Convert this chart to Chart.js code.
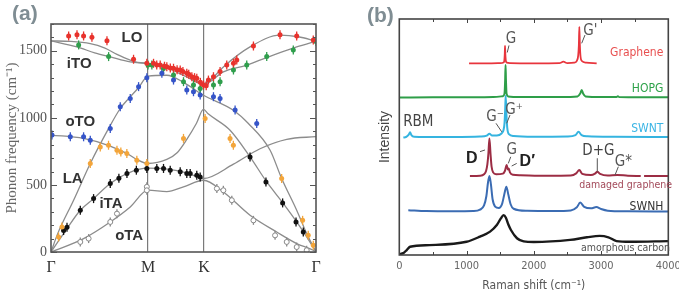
<!DOCTYPE html>
<html>
<head>
<meta charset="utf-8">
<script src="https://cdn.jsdelivr.net/npm/chart.js@4.4.1/dist/chart.umd.min.js"></script>
<style>
  html, body { margin: 0; padding: 0; background: #fff; }
  #wrap { position: relative; width: 679px; height: 291px; overflow: hidden; }
  .panel { position: absolute; top: 0; height: 291px; }
  #pa { left: 0; width: 340px; }
  #pb { left: 340px; width: 339px; }
  .tag { position: absolute; font: bold 21px 'Liberation Sans', Arial, sans-serif; color: #7f8d93; }
</style>
</head>
<body>
<div id="wrap">
  <div class="panel" id="pa"><canvas id="chart-a"></canvas></div>
  <div class="panel" id="pb"><canvas id="chart-b"></canvas></div>
  <div class="tag" style="left:12px;top:1px">(a)</div>
  <div class="tag" style="left:367px;top:3px">(b)</div>
</div>
<script>
// ── Panel (a): phonon dispersion, x = path length Γ-M-K-Γ ────────
const pathLabels = ['Γ', 'M', 'K', 'Γ'];
const pathPos    = [0, 1, 1.577, 2.732];
const freqTicks  = [0, 500, 1000, 1500];

// calculated branches [q, cm-1]
const curveLO  = [[0,1574],[0.2,1570],[0.405,1553],[0.55,1522],[0.68,1474],[0.85,1422],[1,1405],[1.2,1385],[1.4,1325],[1.572,1257],[1.64,1281],[1.777,1380],[2.052,1529],[2.361,1617],[2.55,1605],[2.732,1572]];
const curveITO = [[0,1574],[0.268,1529],[0.45,1485],[0.611,1455],[0.817,1417],[1,1405],[1.2,1372],[1.4,1305],[1.572,1250],[1.777,1343],[2.018,1393],[2.224,1450],[2.533,1529],[2.732,1572]];
const curveLA  = [[0,0],[0.069,137],[0.233,386],[0.405,660],[0.593,920],[0.714,1070],[0.8,1144],[0.902,1225],[1,1312],[1.194,1318],[1.366,1265],[1.572,1169],[1.88,1057],[2.035,958],[2.259,759],[2.378,548],[2.533,311],[2.636,137],[2.732,0]];
const curveOTO = [[0,872],[0.336,847],[0.611,790],[0.697,762],[0.782,735],[0.885,690],[1,660],[1.194,690],[1.3,740],[1.4,840],[1.5,960],[1.572,1063],[1.62,1030],[1.846,908],[2.052,709],[2.224,522],[2.396,361],[2.533,224],[2.636,112],[2.732,0]];
const curveITA = [[0,0],[0.165,175],[0.302,311],[0.439,398],[0.611,510],[0.783,585],[1,625],[1.2,618],[1.4,590],[1.572,548],[1.881,655],[2.155,770],[2.43,840],[2.732,860]];
const curveOTA = [[0,0],[0.336,100],[0.611,224],[0.817,336],[1,461],[1.194,450],[1.366,486],[1.572,535],[1.777,448],[2.052,274],[2.327,149],[2.533,63],[2.704,13],[2.732,0]];

// measured points [q, cm-1]
const ptsRed    = [[0.182,1611],[0.268,1619],[0.336,1611],[0.422,1601],[0.577,1576],[0.851,1437],[0.988,1407],[1.057,1407],[1.09,1395],[1.126,1394],[1.17,1385],[1.194,1382],[1.23,1372],[1.263,1370],[1.3,1358],[1.332,1357],[1.36,1345],[1.4,1332],[1.42,1325],[1.452,1307],[1.48,1300],[1.503,1295],[1.54,1265],[1.572,1245],[1.6,1240],[1.623,1282],[1.675,1307],[1.743,1345],[1.812,1394],[1.881,1407],[1.915,1432],[2.087,1536],[2.361,1619],[2.533,1611],[2.704,1581]];
const ptsGreen  = [[0.285,1544],[0.594,1457],[1.0,1395],[1.04,1394],[1.16,1370],[1.263,1320],[1.366,1270],[1.469,1245],[1.538,1220],[1.675,1245],[1.743,1270],[1.881,1357],[2.018,1394],[2.224,1457],[2.498,1506],[2.732,1569]];
const ptsBlue   = [[0.01,872],[0.199,859],[0.336,859],[0.405,834],[0.611,921],[0.714,1083],[0.817,1145],[0.903,1233],[0.988,1300],[1.143,1332],[1.263,1282],[1.4,1208],[1.469,1195],[1.538,1170],[1.675,1158],[1.743,1145],[1.898,1058],[2.121,959]];
const ptsYellow = [[0.078,112],[0.113,187],[0.405,660],[0.508,783],[0.593,796],[0.68,759],[0.72,745],[0.782,735],[0.885,685],[0.988,660],[1.366,847],[1.589,995],[1.846,846],[1.88,796],[2.378,548],[2.594,236],[2.652,124],[2.704,50]];
const ptsBlack  = [[0.13,160],[0.165,185],[0.302,311],[0.439,398],[0.611,510],[0.7,550],[0.783,585],[0.88,610],[0.988,622],[1.091,623],[1.16,623],[1.229,610],[1.332,598],[1.4,585],[1.435,585],[1.503,573],[1.538,560],[2.052,709],[2.216,522],[2.388,366],[2.526,224],[2.601,149]];
const ptsOpen   = [[0.302,75],[0.388,100],[0.611,224],[0.68,286],[0.988,486],[0.988,460],[1.71,473],[1.777,460],[1.864,386],[2.087,236],[2.31,124],[2.43,75],[2.533,37],[2.636,13]];

// ── Panel (b): Raman spectra (offset traces) ─────────────────────
const ramanTicks = [0, 1000, 2000, 3000, 4000];

const grapheneShift = [1037,1300,1500,1550,1562,1568,1572,1577,1585,1600,1650,2000,2380,2440,2500,2600,2640,2660,2670,2677,2685,2695,2715,2780,2935];
const grapheneInt   = [81.2,81.2,81.3,81.6,82.5,85,88.6,85,82.2,81.5,81.3,81.2,81.3,81.9,81.3,81.5,82.3,84.5,89,96.7,89,84,82.2,81.5,81.2];

const hopgShift = [0,500,1000,1400,1540,1565,1574,1580,1586,1595,1620,1800,2400,2650,2690,2712,2735,2770,3000,3230,3250,3270,3600,4000];
const hopgInt   = [66.7,66.8,66.8,66.9,67.3,68.5,74,80.5,74,68.3,67.2,66.9,66.9,67.2,68.4,69.9,68.3,67.2,66.9,66.9,67.3,66.9,66.8,66.8];

const swntShift = [60,100,140,160,180,220,400,800,1200,1300,1340,1380,1450,1520,1550,1565,1575,1582,1592,1605,1630,1700,2000,2500,2620,2665,2710,2800,3200,4000];
const swntInt   = [49.8,50.0,51.0,52.0,50.8,50.1,50.0,50.0,50.2,50.6,51.4,50.6,50.6,51.5,53,56,62,67.5,60,54,51.2,50.4,50.1,50.2,50.8,52.2,50.8,50.3,50.1,50.0];

const damagedShift = [1050,1200,1260,1290,1310,1325,1340,1356,1372,1395,1440,1540,1570,1597,1615,1628,1645,1690,1800,2200,2550,2630,2677,2720,2850,2910,2945,2985,3100,3240,3400,3590,3615,3640,4000];
const damagedInt   = [33.5,33.6,34.2,35.6,38.5,43,49.4,43,37.5,35,34.2,34.5,35.6,38.1,36.2,36.6,35,34,33.8,33.6,33.7,34.6,36,34.4,33.9,34.5,35.3,34.4,33.7,33.9,33.6,33.5,null,33.5,33.5];

const swnhShift = [134,400,800,1100,1200,1260,1295,1318,1340,1362,1388,1425,1480,1530,1560,1592,1622,1655,1700,1900,2300,2550,2640,2690,2750,2850,2930,3000,3100,3400,4000];
const swnhInt   = [19.0,18.6,18.5,18.6,19.2,21,25,30.5,33.5,30,23.5,20.5,19.9,21.8,25.5,28.9,25.5,21.5,19.6,18.7,18.6,18.9,20.2,22.2,20.4,19.8,20.3,19.5,18.8,18.5,18.4];

const amorphShift = [0,60,110,160,450,1000,1200,1350,1450,1510,1550,1585,1620,1660,1750,1850,2000,2540,2790,2980,3110,3230,3430,4000];
const amorphInt   = [0.4,0.8,2.1,3.5,4.2,5.6,7.8,9.9,12.7,15.5,16.9,15.8,13,10.6,7.1,5.8,5.5,6.4,7.5,8.1,7.5,5.9,5.6,5.9];

// ── Styling ──────────────────────────────────────────────────────
const SERIF  = "'Liberation Serif', 'Times New Roman', serif";
const SANS   = "'Liberation Sans', Arial, sans-serif";
const NARROW = "'Liberation Sans Narrow', 'Arial Narrow', 'DejaVu Sans Condensed', sans-serif";

const toXY = pts => pts.map(([x, y]) => ({ x, y }));
const zipXY = (xs, ys) => xs.map((x, i) => ({ x, y: ys[i] }));

// frame + inward tick marks
function framePlugin(opts) {
  return {
    id: 'frame',
    afterDatasetsDraw(chart) {
      const { ctx, chartArea: a, scales } = chart;
      ctx.save();
      ctx.strokeStyle = opts.color;
      ctx.lineWidth = opts.width;
      ctx.strokeRect(a.left, a.top, a.right - a.left, a.bottom - a.top);
      ctx.lineWidth = 1;
      opts.ticks.forEach(t => {
        const sc = scales[t.axis];
        for (let v = sc.min; v <= sc.max + 1e-6; v += t.step) {
          const p = Math.round(sc.getPixelForValue(v)) + 0.5;
          const len = Math.abs(v % t.major) < 1e-6 ? t.majorLen : t.len;
          ctx.beginPath();
          if (t.axis === 'y') {
            ctx.moveTo(a.left, p); ctx.lineTo(a.left + len, p);
            ctx.moveTo(a.right, p); ctx.lineTo(a.right - len, p);
          } else {
            ctx.moveTo(p, a.bottom); ctx.lineTo(p, a.bottom - len);
            ctx.moveTo(p, a.top); ctx.lineTo(p, a.top + len);
          }
          ctx.stroke();
        }
      });
      ctx.restore();
    },
  };
}

// text labels anchored in data units
function notesPlugin(items) {
  return {
    id: 'notes',
    afterDraw(chart) {
      const { ctx, scales: { x, y } } = chart;
      ctx.save();
      items.forEach(n => {
        if (n.line) {
          ctx.strokeStyle = n.lineColor || '#555';
          ctx.lineWidth = 1;
          ctx.beginPath();
          ctx.moveTo(x.getPixelForValue(n.line[0]), y.getPixelForValue(n.line[1]));
          ctx.lineTo(x.getPixelForValue(n.line[2]), y.getPixelForValue(n.line[3]));
          ctx.stroke();
        }
        if (!n.text) return;
        ctx.font = n.font;
        ctx.fillStyle = n.color;
        ctx.textAlign = n.align || 'center';
        ctx.textBaseline = 'middle';
        ctx.fillText(n.text, x.getPixelForValue(n.x), y.getPixelForValue(n.y));
      });
      ctx.restore();
    },
  };
}

const curveSet = pts => ({
  data: toXY(pts), borderColor: '#8c8c8c', borderWidth: 1.3, pointRadius: 0,
  cubicInterpolationMode: 'monotone', fill: false, order: 3,
});
const barSet = (pts, color) => ({
  data: toXY(pts), showLine: false, pointStyle: 'line', pointRotation: 90,
  pointRadius: 4.5, pointBorderColor: color, pointBorderWidth: 1.3, order: 2,
});
const dotSet = (pts, color, fillColor) => ({
  data: toXY(pts), showLine: false, pointStyle: 'circle', pointRadius: 2.5,
  pointBackgroundColor: fillColor || color, pointBorderColor: color, pointBorderWidth: fillColor ? 1 : 0, order: 1,
});

const branchFont = `bold 15px ${SANS}`;
const notesA = [
  { text: 'LO',  x: 0.834, y: 1600, font: branchFont, color: '#333' },
  { text: 'iTO', x: 0.291, y: 1405, font: branchFont, color: '#333' },
  { text: 'oTO', x: 0.302, y: 970,  font: branchFont, color: '#333' },
  { text: 'LA',  x: 0.223, y: 542,  font: branchFont, color: '#333' },
  { text: 'iTA', x: 0.618, y: 356,  font: branchFont, color: '#333' },
  { text: 'oTA', x: 0.806, y: 117,  font: branchFont, color: '#333' },
];

new Chart(document.getElementById('chart-a'), {
  type: 'line',
  data: {
    datasets: [
      curveSet(curveLO), curveSet(curveITO), curveSet(curveLA),
      curveSet(curveOTO), curveSet(curveITA), curveSet(curveOTA),
      barSet(ptsRed, '#e8322c'), barSet(ptsGreen, '#2f9e4c'), barSet(ptsBlue, '#3554c8'),
      barSet(ptsYellow, '#f3a53a'), barSet(ptsBlack, '#111'), barSet(ptsOpen, '#888'),
      dotSet(ptsRed, '#e8322c'), dotSet(ptsGreen, '#2f9e4c'), dotSet(ptsBlue, '#3554c8'),
      dotSet(ptsYellow, '#f3a53a'), dotSet(ptsBlack, '#111'), dotSet(ptsOpen, '#888', '#fff'),
    ],
  },
  options: {
    responsive: true,
    maintainAspectRatio: false,
    animation: false,
    events: [],
    layout: { padding: { left: 0, top: 24, right: 24, bottom: 0 } },
    plugins: { legend: { display: false }, tooltip: { enabled: false } },
    scales: {
      x: {
        type: 'linear', min: 0, max: 2.732,
        afterBuildTicks: s => { s.ticks = pathPos.map(v => ({ value: v })); },
        afterFit: s => { s.height = 39; s.paddingLeft = 0; s.paddingRight = 0; },
        ticks: { callback: (v, i) => pathLabels[i], padding: 6, color: '#333', font: { family: SERIF, size: 16 } },
        grid: {
          drawTicks: false,
          color: c => (c.index === 1 || c.index === 2) ? '#7a7a7a' : 'rgba(0,0,0,0)',
          lineWidth: 1.2,
        },
        border: { display: false },
      },
      y: {
        min: 0, max: 1700,
        afterBuildTicks: s => { s.ticks = freqTicks.map(v => ({ value: v })); },
        afterFit: s => { s.width = 51; s.paddingTop = 0; s.paddingBottom = 0; },
        ticks: { callback: v => String(v), padding: 4, color: '#555', font: { family: SERIF, size: 14 } },
        grid: { display: false, drawTicks: false },
        border: { display: false },
        title: {
          display: true, text: 'Phonon frequency (cm⁻¹)', color: '#666',
          font: { family: SERIF, size: 15 }, padding: { top: 3, bottom: 0 },
        },
      },
    },
  },
  plugins: [
    framePlugin({ color: '#555', width: 1.6, ticks: [{ axis: 'y', step: 100, major: 500, len: 3, majorLen: 6 }] }),
    notesPlugin(notesA),
  ],
});

// ── Panel (b) ────────────────────────────────────────────────────
const peakFont = `15px ${NARROW}`;
const boldFont = `bold 16px ${SANS}`;
const nameFont = `12px ${NARROW}`;
const smallFont = `10.5px ${NARROW}`;
const notesB = [
  { text: 'G',   x: 1661, y: 91.5, font: peakFont, color: '#555', line: [1631, 88.8, 1605, 85.8] },
  { text: "G'",  x: 2840, y: 95.0, font: peakFont, color: '#555', line: [2761, 93.2, 2712, 89.7] },
  { text: 'RBM', x: 283,  y: 56.1, font: peakFont, color: '#444' },
  { text: 'G⁻',  x: 1423, y: 58.6, font: peakFont, color: '#555', line: [1438, 55.8, 1523, 52.2] },
  { text: 'G⁺',  x: 1706, y: 61.4, font: peakFont, color: '#555', line: [1646, 59.3, 1597, 55.8] },
  { text: 'D',   x: 1077, y: 41.0, font: boldFont, color: '#222', line: [1200, 43.8, 1274, 44.5] },
  { text: 'G',   x: 1671, y: 44.5, font: peakFont, color: '#555', line: [1657, 41.6, 1621, 38.8] },
  { text: 'D′',  x: 1903, y: 39.5, font: boldFont, color: '#222', line: [1746, 38.8, 1671, 37.7] },
  { text: 'D+G', x: 2960, y: 44.2, font: peakFont, color: '#444', line: [2944, 41.0, 2944, 35.3] },
  { text: 'G*',  x: 3331, y: 39.5, font: peakFont, color: '#555', line: [3257, 37.4, 3208, 33.9] },
  { text: 'Graphene', x: 3926, y: 85.5, font: nameFont, color: '#e85050', align: 'right' },
  { text: 'HOPG', x: 3926, y: 70.2, font: nameFont, color: '#2ea24a', align: 'right' },
  { text: 'SWNT', x: 3926, y: 53.4, font: nameFont, color: '#3bb5e5', align: 'right' },
  { text: 'damaged graphene', x: 4055, y: 29.7, font: smallFont, color: '#a34a5a', align: 'right' },
  { text: 'SWNH', x: 3926, y: 20.2, font: nameFont, color: '#333', align: 'right' },
  { text: 'amorphous carbon', x: 4025, y: 2.8, font: smallFont, color: '#555', align: 'right' },
];

const specSet = (xs, ys, color, width) => ({
  data: zipXY(xs, ys), borderColor: color, borderWidth: width || 2, pointRadius: 0,
  cubicInterpolationMode: 'monotone', spanGaps: false, fill: false,
});

new Chart(document.getElementById('chart-b'), {
  type: 'line',
  data: {
    datasets: [
      specSet(grapheneShift, grapheneInt, '#e8353d', 1.8),
      specSet(hopgShift, hopgInt, '#2e9e48'),
      specSet(swntShift, swntInt, '#35b4e0'),
      specSet(damagedShift, damagedInt, '#9c2d44'),
      specSet(swnhShift, swnhInt, '#3b6cb3'),
      specSet(amorphShift, amorphInt, '#1a1a1a', 2.4),
    ],
  },
  options: {
    responsive: true,
    maintainAspectRatio: false,
    animation: false,
    events: [],
    layout: { padding: { left: 0, top: 19, right: 10.7, bottom: 0 } },
    plugins: { legend: { display: false }, tooltip: { enabled: false } },
    scales: {
      x: {
        type: 'linear', min: 0, max: 4000,
        afterBuildTicks: s => { s.ticks = ramanTicks.map(v => ({ value: v })); },
        afterFit: s => { s.height = 36; s.paddingLeft = 0; s.paddingRight = 0; },
        ticks: { callback: v => String(v), padding: 5, color: '#666', font: { family: NARROW, size: 11 } },
        grid: { display: false, drawTicks: false },
        border: { display: false },
        title: {
          display: true, text: 'Raman shift (cm⁻¹)', color: '#555',
          font: { family: NARROW, size: 12 }, padding: { top: 0, bottom: -2 },
        },
      },
      y: {
        min: 0, max: 100,
        afterFit: s => { s.width = 59.3; s.paddingTop = 0; s.paddingBottom = 0; },
        ticks: { display: false },
        grid: { display: false, drawTicks: false },
        border: { display: false },
        title: {
          display: true, text: 'Intensity', color: '#444',
          font: { family: SANS, size: 14 }, padding: { top: 37, bottom: 0 },
        },
      },
    },
  },
  plugins: [
    framePlugin({ color: '#444', width: 1.6, ticks: [{ axis: 'x', step: 500, major: 1000, len: 3, majorLen: 4 }] }),
    notesPlugin(notesB),
  ],
});
</script>
</body>
</html>
